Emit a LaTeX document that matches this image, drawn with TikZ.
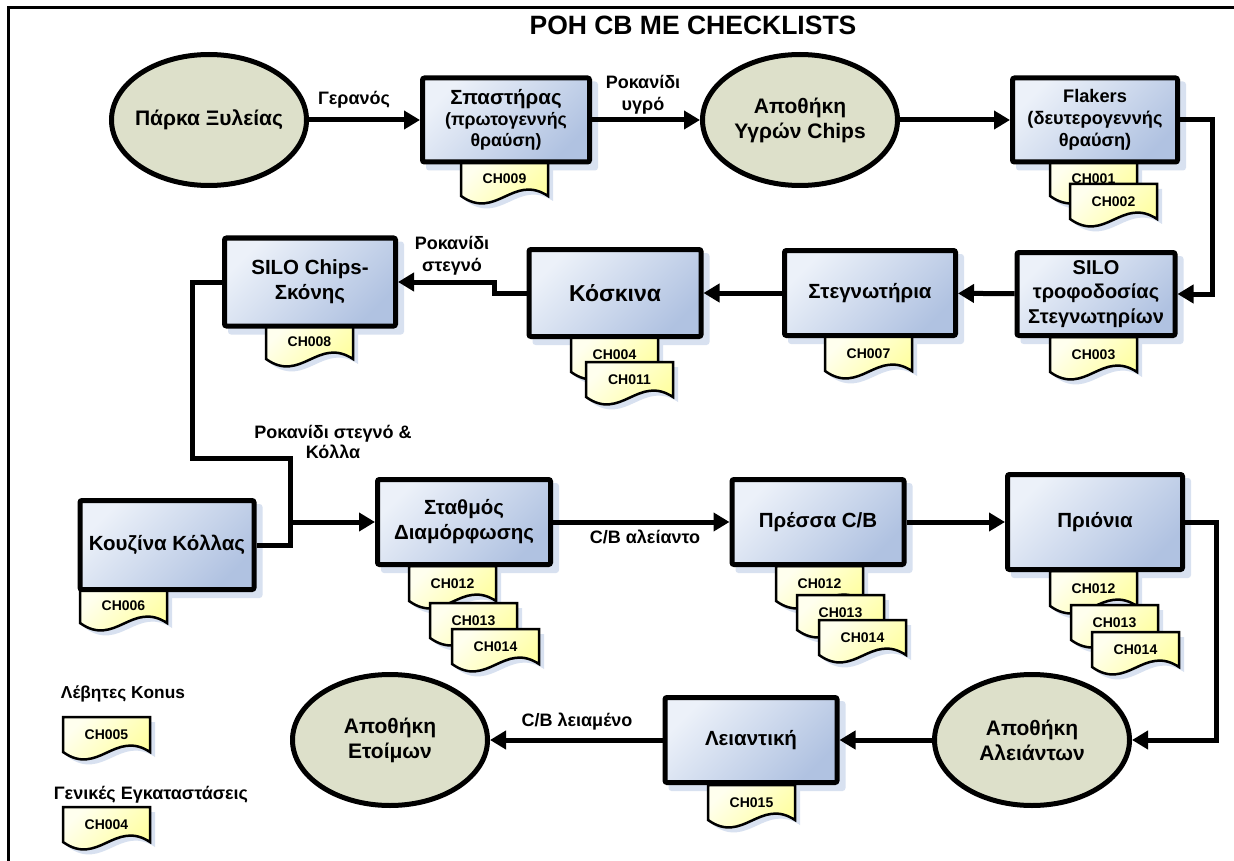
\documentclass[tikz,border=0pt]{standalone}
\usepackage{fontspec}
\setmainfont{Liberation Sans}
\usetikzlibrary{arrows.meta,shapes.geometric}

\pgfdeclarelayer{paper}
\pgfdeclarelayer{shadowlayer}
\pgfdeclarelayer{doclayer}
\pgfsetlayers{paper,shadowlayer,doclayer,main}

\definecolor{boxlight}{RGB}{236,241,249}
\definecolor{boxdark}{RGB}{176,194,225}
\definecolor{shadowc}{RGB}{216,225,240}
\definecolor{ovalfill}{RGB}{221,224,202}
\definecolor{doclight}{RGB}{255,255,238}
\definecolor{docdark}{RGB}{255,255,150}

\tikzset{
  box/.style={draw, line width=5pt, rounded corners=2pt, top color=boxlight,
    bottom color=boxdark, shading angle=45, align=center, inner sep=1pt,
    font=\bfseries\fontsize{20.5}{25}\selectfont},
  oval/.style={ellipse, draw, line width=5pt, fill=ovalfill,
    minimum width=195pt, minimum height=131pt, inner sep=0pt},
  ovaltxt/.style={align=center, inner sep=0pt, font=\bfseries\fontsize{21}{25}\selectfont},
  conn/.style={line width=5pt, -{Triangle[length=16pt,width=18pt]}},
  link/.style={line width=5pt},
  flowlbl/.style={align=center, inner sep=0pt, font=\bfseries\fontsize{18}{22}\selectfont},
  docbody/.style={draw, line width=2.5pt, top color=doclight, bottom color=docdark, shading angle=45},
  docshade/.style={fill=shadowc},
  doclbl/.style={inner sep=0pt, font=\bfseries\fontsize{14}{16}\selectfont},
}

% checklist document: name, left x, top y, code
\newcommand\chdoc[4]{%
  \begin{pgfonlayer}{doclayer}
  \begin{scope}[shift={(#2,#3)}]
    \path[docshade] (5,5) -- (92,5) -- (92,40) .. controls (57,17) and (40,65) .. (5,40) -- cycle;
    \path[docbody] (0,0) -- (87,0) -- (87,35) .. controls (52,12) and (35,60) .. (0,35) -- cycle;
    \node[doclbl] (#1) at (43.5,18) {#4};
  \end{scope}
  \end{pgfonlayer}}

\begin{document}
\begin{tikzpicture}[x=1pt,y=-1pt]
\useasboundingbox (0,0) rectangle (1234,861);
\begin{pgfonlayer}{paper}
  \fill[white] (0,0) rectangle (1234,861);
\end{pgfonlayer}
\draw[line width=3pt] (8,870) -- (8,8) -- (1240,8);

\node[font=\bfseries\fontsize{26.5}{30}\selectfont] (title) at (693,25) {ΡΟΗ CB ΜΕ CHECKLISTS};

% ---- row 1
\node[oval, label={[ovaltxt]center:Πάρκα Ξυλείας}] (park) at (209,120) {};
\node[box, minimum width=167pt, minimum height=84pt, font=\bfseries\fontsize{17.8}{21}\selectfont]
  (spast) at (506,120) {{\fontsize{20.5}{24}\selectfont Σπαστήρας}\\(πρωτογεννής\\θραύση)};
\node[oval, label={[ovaltxt]center:Αποθήκη\\Υγρών Chips}] (wet) at (800,120) {};
\node[box, minimum width=165pt, minimum height=84pt, font=\bfseries\fontsize{18.2}{22}\selectfont]
  (flak) at (1095,120) {Flakers\\(δευτερογεννής\\θραύση)};

% ---- row 2
\node[box, minimum width=158pt, minimum height=83pt, font=\bfseries\fontsize{20}{24.5}\selectfont]
  (silofeed) at (1096,294) {SILO\\τροφοδοσίας\\Στεγνωτηρίων};
\node[box, minimum width=171pt, minimum height=85pt] (dryer) at (870,293) {Στεγνωτήρια};
\node[box, minimum width=172pt, minimum height=87pt, font=\bfseries\fontsize{23}{27}\selectfont]
  (sieves) at (615,293) {Κόσκινα};
\node[box, minimum width=171pt, minimum height=88pt] (silochips) at (310,282) {SILO Chips-\\Σκόνης};

% ---- row 3
\node[box, minimum width=174pt, minimum height=89pt] (kitchen) at (167,545) {Κουζίνα Κόλλας};
\node[box, minimum width=173pt, minimum height=85pt] (stac) at (464,522) {Σταθμός\\Διαμόρφωσης};
\node[box, minimum width=172pt, minimum height=85pt] (press) at (818,522) {Πρέσσα C/B};
\node[box, minimum width=175pt, minimum height=95pt] (saws) at (1095,522) {Πριόνια};

% ---- row 4
\node[oval, label={[ovaltxt]center:Αποθήκη\\Αλειάντων}] (storeraw) at (1032,740) {};
\node[box, minimum width=172pt, minimum height=85pt] (sander) at (751,740) {Λειαντική};
\node[oval, label={[ovaltxt]center:Αποθήκη\\Ετοίμων}] (storefinal) at (390,740) {};

% ---- box shadows
\begin{pgfonlayer}{shadowlayer}
  \foreach \n in {spast,flak,silofeed,dryer,sieves,silochips,kitchen,stac,press,saws,sander}
    \fill[shadowc, rounded corners=3pt] ([shift={(6pt,-6pt)}]\n.south west) rectangle ([shift={(6pt,-6pt)}]\n.north east);
\end{pgfonlayer}

% ---- checklists
\chdoc{c009}{461}{161}{CH009}
\chdoc{c001}{1050}{161}{CH001}
\chdoc{c002}{1070}{184}{CH002}
\chdoc{c003}{1050}{337}{CH003}
\chdoc{c007}{825}{336}{CH007}
\chdoc{c004}{571}{337}{CH004}
\chdoc{c011}{586}{362}{CH011}
\chdoc{c008}{266}{324}{CH008}
\chdoc{c006}{80}{588}{CH006}
\chdoc{s012}{409}{566}{CH012}
\chdoc{s013}{430}{603}{CH013}
\chdoc{s014}{452}{629}{CH014}
\chdoc{p012}{776}{566}{CH012}
\chdoc{p013}{797}{595}{CH013}
\chdoc{p014}{819}{620}{CH014}
\chdoc{r012}{1050}{571}{CH012}
\chdoc{r013}{1071}{605}{CH013}
\chdoc{r014}{1092}{632}{CH014}
\chdoc{c015}{708}{785}{CH015}

% ---- legend
\node[flowlbl, font=\bfseries\fontsize{17.3}{21}\selectfont] (legkonus) at (123,694) {Λέβητες Konus};
\chdoc{c005}{63}{717}{CH005}
\node[flowlbl] (leggen) at (151,795) {Γενικές Εγκαταστάσεις};
\chdoc{c004g}{63}{807}{CH004}

% ---- flow connectors
\draw[conn] (park) -- (spast);
\draw[conn] (spast) -- (wet);
\draw[conn] (wet) -- (flak);
\draw[conn] (flak.east) -- ++(32,0) |- (silofeed.east);
\draw[conn] (silofeed) -- (dryer);
\draw[conn] (dryer) -- (sieves);
\draw[conn] (sieves.west) -- ++(-32,0) |- (silochips.east);
\coordinate (bend) at (192,458);
\coordinate (merge) at (290,522);
\draw[conn] (silochips.west) -| (bend) -| (merge) -- (stac.west);
\draw[link] (kitchen.east) -| (merge);
\draw[conn] (stac) -- (press);
\draw[conn] (press) -- (saws);
\draw[conn] (saws.east) -- ++(31,0) |- (storeraw.east);
\draw[conn] (storeraw) -- (sander);
\draw[conn] (sander) -- (storefinal);

% ---- connector labels
\node[flowlbl] (lcrane) at (354,100) {Γερανός};
\node[flowlbl] (lwet) at (643,95) {Ροκανίδι\\υγρό};
\node[flowlbl] (ldry) at (452,256) {Ροκανίδι\\στεγνό};
\node[flowlbl, font=\bfseries\fontsize{18}{20}\selectfont] (lglue) at (333,442) {Ροκανίδι στεγνό \&\\Κόλλα};
\node[flowlbl] (lraw) at (645,537) {C/B αλείαντο};
\node[flowlbl] (lsand) at (577,722) {C/B λειαμένο};
\end{tikzpicture}
\end{document}
